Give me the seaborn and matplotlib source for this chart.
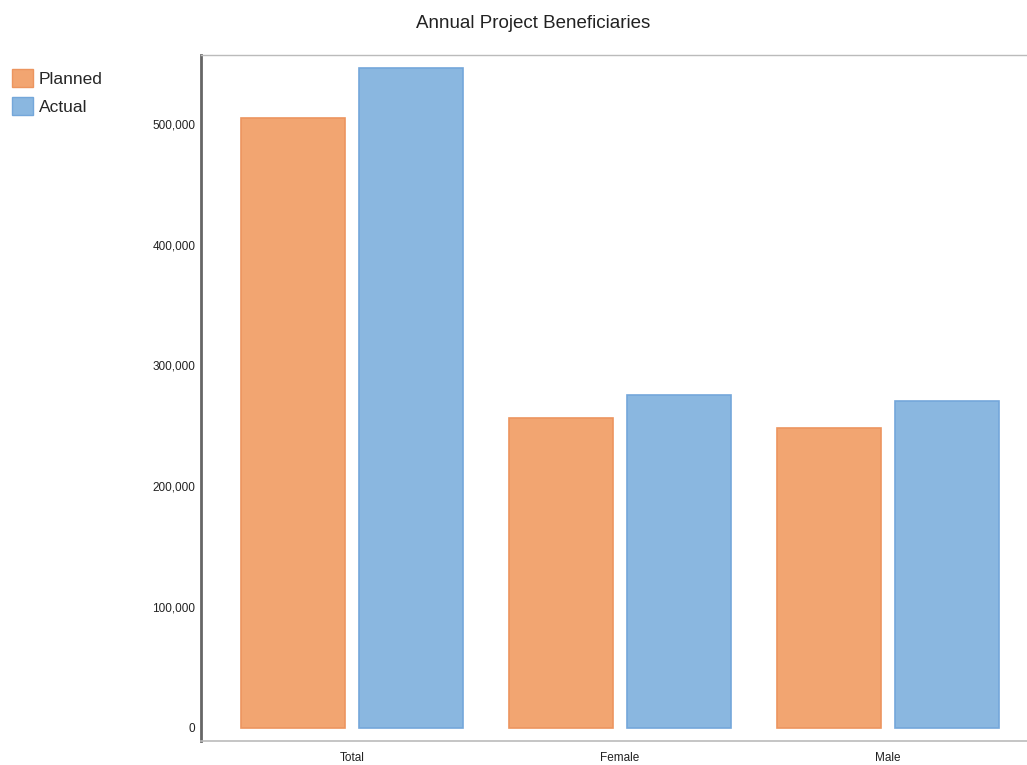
import matplotlib
matplotlib.use("Agg")
import matplotlib.pyplot as plt
import seaborn as sns
import pandas as pd
from matplotlib.ticker import FuncFormatter
from matplotlib.patches import Patch

categories = ["Total", "Female", "Male"]
planned = [505000, 256500, 248500]
actual = [546000, 275500, 270500]
series_names = ["Planned", "Actual"]

df = pd.DataFrame({
    "category": categories * 2,
    "value": planned + actual,
    "series": [series_names[0]] * 3 + [series_names[1]] * 3,
})

sns.set_style("white")
plt.rcParams["font.family"] = ["Liberation Sans", "DejaVu Sans"]

fill = {"Planned": "#F2A571", "Actual": "#8AB7E0"}
edge = {"Planned": "#EC955F", "Actual": "#74A7DA"}

fig = plt.figure(figsize=(10.27, 7.65), dpi=100)
ax = fig.add_axes([0.1957, 0.0314, 0.8043, 0.8967])

sns.barplot(data=df, x="category", y="value", hue="series", order=categories,
            hue_order=series_names, palette=fill, width=0.88, gap=0.12,
            legend=False, ax=ax, saturation=1)

for i, bar in enumerate(ax.patches):
    name = series_names[i // 3] if i < 6 else None
    if name:
        bar.set_edgecolor(edge[name])
        bar.set_linewidth(1.2)

ax.set_xlim(-0.563, 2.519)
ax.set_ylim(-10800, 557000)
ax.set_yticks([0, 100000, 200000, 300000, 400000, 500000])
ax.yaxis.set_major_formatter(FuncFormatter(lambda v, p: f"{int(v):,}"))
ax.tick_params(axis="both", length=0, labelsize=8.5, colors="#222222")
ax.tick_params(axis="y", pad=4)
ax.tick_params(axis="x", pad=8)
ax.set_xlabel("")
ax.set_ylabel("")

ax.spines["right"].set_visible(False)
ax.spines["left"].set_color("#666666")
ax.spines["left"].set_linewidth(2)
ax.spines["top"].set_color("#BBBBBB")
ax.spines["top"].set_linewidth(1)
ax.spines["bottom"].set_color("#BBBBBB")
ax.spines["bottom"].set_linewidth(1.2)

fig.suptitle("Annual Project Beneficiaries", x=0.519, y=0.981, fontsize=13.5,
             color="#222222")

handles = [Patch(facecolor=fill[n], edgecolor=edge[n], label=n) for n in series_names]
fig.legend(handles=handles, loc="upper left", bbox_to_anchor=(0.005, 0.919),
           frameon=False, fontsize=12.5, handlelength=1.2, handleheight=1.2,
           handletextpad=0.35, labelspacing=0.62, borderaxespad=0)

fig.savefig("out.png", dpi=100)
